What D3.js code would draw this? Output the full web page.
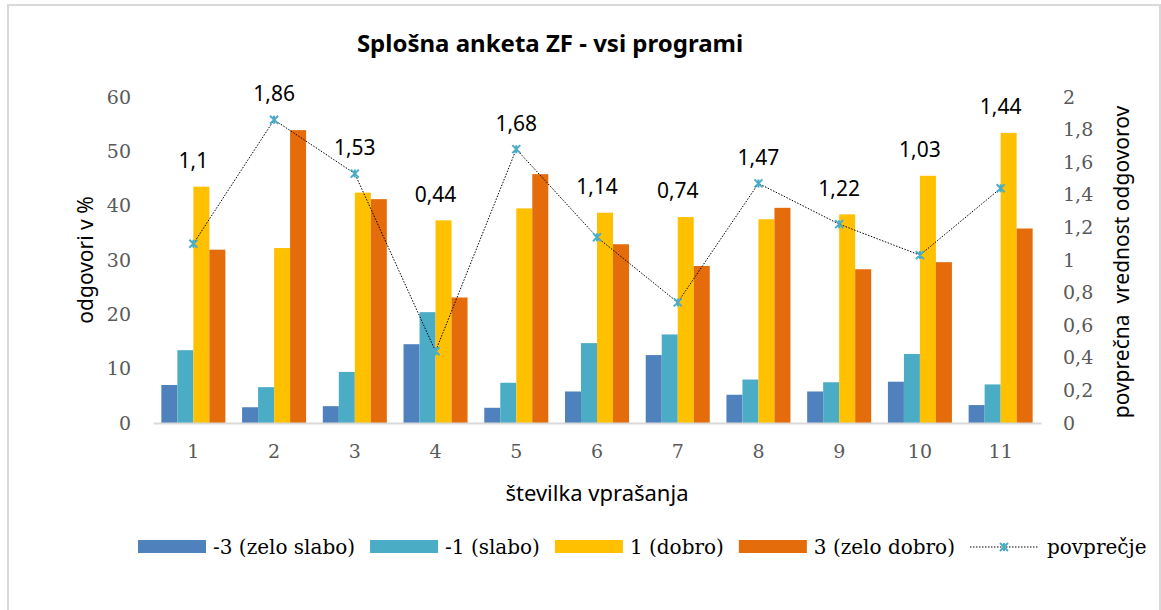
<!DOCTYPE html>
<html>
<head>
<meta charset="utf-8">
<script src="https://cdn.jsdelivr.net/npm/d3@7"></script>
<style>
  body { margin: 0; background: #fff; }
  svg { display: block; }
  .tick-lbl { font-family: "DejaVu Serif", serif; font-size: 19px; fill: #595959; }
  .sans { font-family: "Noto Sans", "Liberation Sans", sans-serif; }
</style>
</head>
<body>
<svg id="chart" width="1161" height="610"></svg>
<script>
// data
var questions = ["1", "2", "3", "4", "5", "6", "7", "8", "9", "10", "11"];
var seriesNames = ["-3 (zelo slabo)", "-1 (slabo)", "1 (dobro)", "3 (zelo dobro)"];
var seriesColors = ["#4F81BD", "#4BACC6", "#FFC000", "#E46C0A"];
var zeloSlabo = [7.0, 2.9, 3.1, 14.5, 2.8, 5.8, 12.5, 5.2, 5.8, 7.6, 3.3];
var slabo = [13.4, 6.6, 9.4, 20.4, 7.4, 14.7, 16.3, 8.0, 7.5, 12.7, 7.1];
var dobro = [43.5, 32.2, 42.4, 37.3, 39.5, 38.7, 37.9, 37.5, 38.4, 45.5, 53.4];
var zeloDobro = [31.9, 53.9, 41.2, 23.1, 45.8, 32.9, 28.9, 39.6, 28.3, 29.6, 35.8];
var povprecje = [1.1, 1.86, 1.53, 0.44, 1.68, 1.14, 0.74, 1.47, 1.22, 1.03, 1.44];
var leftTicks = [0, 10, 20, 30, 40, 50, 60];
var rightTicks = [0, 0.2, 0.4, 0.6, 0.8, 1, 1.2, 1.4, 1.6, 1.8, 2];

var seriesValues = [zeloSlabo, slabo, dobro, zeloDobro];
var fmt = function (d) { return String(d).replace(".", ","); };

var svg = d3.select("#chart");

// chart frame
svg.append("rect")
  .attr("x", 8).attr("y", 5).attr("width", 1152).attr("height", 620)
  .attr("fill", "#fff").attr("stroke", "#d9d9d9").attr("stroke-width", 2);

var plot = { left: 153, right: 1041, top: 97, bottom: 423 };

var x = d3.scaleBand().domain(questions)
  .range([plot.left, plot.right])
  .paddingInner(0.207).paddingOuter(0.1035);
var xSub = d3.scaleBand().domain(d3.range(seriesNames.length))
  .range([0, x.bandwidth()]);
var yLeft = d3.scaleLinear().domain([0, 60]).range([plot.bottom, plot.top]);
var yRight = d3.scaleLinear().domain([0, 2]).range([plot.bottom, plot.top]);

// title
svg.append("text")
  .attr("class", "sans")
  .attr("x", 550).attr("y", 52)
  .attr("text-anchor", "middle")
  .style("font-size", "24px").style("font-weight", "bold")
  .text("Splošna anketa ZF - vsi programi");

// bars
var groups = svg.append("g").selectAll("g")
  .data(questions)
  .enter().append("g")
  .attr("transform", function (d) { return "translate(" + x(d) + ",0)"; });

groups.selectAll("rect")
  .data(function (d, i) {
    return seriesValues.map(function (s, k) { return { k: k, v: s[i] }; });
  })
  .enter().append("rect")
  .attr("x", function (d) { return xSub(d.k); })
  .attr("width", xSub.bandwidth())
  .attr("y", function (d) { return yLeft(d.v); })
  .attr("height", function (d) { return yLeft(0) - yLeft(d.v); })
  .attr("fill", function (d) { return seriesColors[d.k]; });

// category axis
var xAxis = svg.append("g")
  .attr("transform", "translate(0," + plot.bottom + ")")
  .call(d3.axisBottom(x).tickSize(0).tickPadding(22));
xAxis.select(".domain").attr("stroke", "#d9d9d9").attr("stroke-width", 2);
xAxis.selectAll("text").attr("class", "tick-lbl").attr("font-family", null).attr("font-size", null);

// left axis
var yAxisL = svg.append("g")
  .attr("transform", "translate(131,0)")
  .call(d3.axisLeft(yLeft).tickValues(leftTicks).tickSize(0).tickPadding(0));
yAxisL.select(".domain").remove();
yAxisL.selectAll("text").attr("class", "tick-lbl").attr("font-family", null).attr("font-size", null);

// right axis
var yAxisR = svg.append("g")
  .attr("transform", "translate(1063,0)")
  .call(d3.axisRight(yRight).tickValues(rightTicks).tickSize(0).tickPadding(0).tickFormat(fmt));
yAxisR.select(".domain").remove();
yAxisR.selectAll("text").attr("class", "tick-lbl").attr("font-family", null).attr("font-size", null);

// axis titles
svg.append("text").attr("class", "sans")
  .attr("transform", "translate(93,260) rotate(-90)")
  .attr("text-anchor", "middle").style("font-size", "21px")
  .text("odgovori v %");
svg.append("text").attr("class", "sans")
  .attr("x", 597).attr("y", 501)
  .attr("text-anchor", "middle").style("font-size", "22px")
  .text("številka vprašanja");
svg.append("text").attr("class", "sans")
  .attr("transform", "translate(1129,262) rotate(-90)")
  .attr("text-anchor", "middle").style("font-size", "21px")
  .style("white-space", "pre")
  .text("povprečna  vrednost odgovorov");

// average line
var cx = function (i) { return x(questions[i]) + x.bandwidth() / 2; };
var line = d3.line()
  .x(function (d, i) { return cx(i); })
  .y(function (d) { return yRight(d); });

svg.append("path")
  .datum(povprecje)
  .attr("d", line)
  .attr("fill", "none")
  .attr("stroke", "#000")
  .attr("stroke-width", 1)
  .attr("stroke-dasharray", "1.5,1.5");

function starMarker(sel, s) {
  sel.append("path")
    .attr("d", "M" + (-s) + "," + (-s) + "L" + s + "," + s +
               "M" + (-s) + "," + s + "L" + s + "," + (-s) +
               "M0," + (-s) + "L0," + s)
    .attr("stroke", "#4BACC6").attr("stroke-width", 2).attr("fill", "none");
}

povprecje.forEach(function (v, i) {
  var m = svg.append("g").attr("transform", "translate(" + cx(i) + "," + yRight(v) + ")");
  starMarker(m, 4);
});

// data labels, above the highest mark in each group
svg.append("g").selectAll("text")
  .data(povprecje)
  .enter().append("text")
  .attr("class", "sans")
  .attr("x", function (d, i) { return cx(i); })
  .attr("y", function (d, i) {
    var maxBar = d3.max(seriesValues, function (s) { return s[i]; });
    return Math.min(yLeft(maxBar), yRight(d)) - 26;
  })
  .attr("dy", "0.35em")
  .attr("text-anchor", "middle")
  .style("font-size", "21px")
  .attr("fill", "#000")
  .text(fmt);

// legend
var legend = svg.append("g").attr("transform", "translate(0,547)");
var lx = 138;
seriesNames.forEach(function (name, k) {
  legend.append("rect")
    .attr("x", lx).attr("y", -7).attr("width", 68).attr("height", 13)
    .attr("fill", seriesColors[k]);
  var t = legend.append("text")
    .attr("x", lx + 75).attr("y", 0).attr("dy", "0.35em")
    .style("font-family", "'DejaVu Serif', serif").style("font-size", "20px")
    .attr("fill", "#000")
    .text(name);
  lx = lx + 75 + t.node().getComputedTextLength() + 15;
});
legend.append("line")
  .attr("x1", lx).attr("x2", lx + 68).attr("y1", 0).attr("y2", 0)
  .attr("stroke", "#000").attr("stroke-width", 1).attr("stroke-dasharray", "1.5,1.5");
starMarker(legend.append("g").attr("transform", "translate(" + (lx + 34) + ",0)"), 4);
legend.append("text")
  .attr("x", lx + 77).attr("y", 0).attr("dy", "0.35em")
  .style("font-family", "'DejaVu Serif', serif").style("font-size", "20px")
  .attr("fill", "#000")
  .text("povprečje");
</script>
</body>
</html>
